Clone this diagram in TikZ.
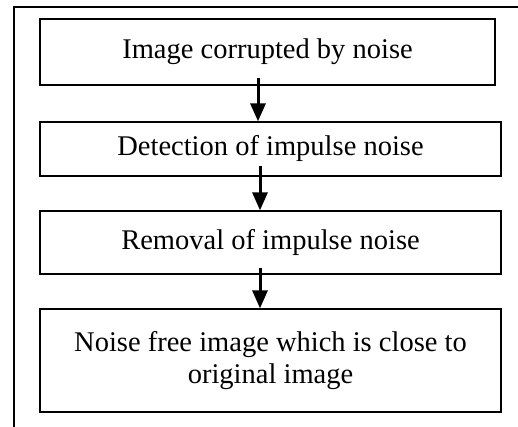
\documentclass[tikz,border=0pt]{standalone}
\usepackage{fontspec}
\setmainfont{Liberation Serif}
\usepackage{tikz}
\usetikzlibrary{arrows.meta}

\begin{document}
\begin{tikzpicture}[x=1pt, y=-1pt,
  box/.style={draw, line width=1.3pt, inner sep=0pt, minimum width=461pt, align=center, font=\fontsize{28.5}{32.5}\selectfont},
  arr/.style={line width=3pt, -{Triangle[width=15pt,length=18pt]}}]
  \useasboundingbox (0,0) rectangle (518,427);
  \draw[line width=1.5pt] (14,427) -- (14,7) -- (518,7);
  \node[box, minimum width=455pt, minimum height=66pt] (b1) at (267.5,52) {Image corrupted by noise};
  \node[box, minimum height=54pt] (b2) at (270.5,149) {Detection of impulse noise};
  \node[box, minimum height=63pt] (b3) at (270.5,242.5) {Removal of impulse noise};
  \node[box, minimum height=103pt] (b4) at (270.5,360.5) {Noise free image which is close to\\ original image};
  \path[arr]
  ([xshift=-9.5pt,yshift=8pt]b1.south) edge ([xshift=-12.5pt]b2.north)
  ([xshift=-10.5pt,yshift=11pt]b2.south) edge ([xshift=-10.5pt]b3.north)
  ([xshift=-10.5pt,yshift=7pt]b3.south) edge ([xshift=-10.5pt]b4.north)
  ;
\end{tikzpicture}
\end{document}
